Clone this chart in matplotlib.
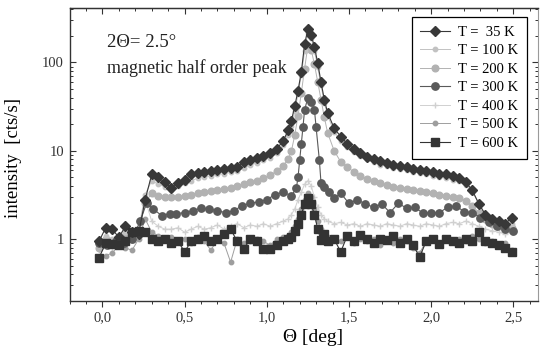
import numpy as np
import matplotlib
matplotlib.use('Agg')
import matplotlib.pyplot as plt
from matplotlib.ticker import MultipleLocator, FuncFormatter, LogLocator, NullFormatter

plt.rcParams['font.family'] = ['Liberation Serif', 'DejaVu Serif']

theta = [-0.02, 0.02, 0.06, 0.10, 0.14, 0.18, 0.22, 0.26, 0.30, 0.34,
         0.38, 0.42, 0.46, 0.50, 0.54, 0.58, 0.62, 0.66, 0.70, 0.74,
         0.78, 0.82, 0.86, 0.90, 0.94, 0.98, 1.02, 1.06, 1.10, 1.13,
         1.15, 1.17, 1.19, 1.21, 1.23, 1.25, 1.27, 1.29, 1.31, 1.33,
         1.35, 1.37, 1.41, 1.45, 1.49, 1.53, 1.57, 1.61, 1.65, 1.69,
         1.73, 1.77, 1.81, 1.85, 1.89, 1.93, 1.97, 2.01, 2.05, 2.09,
         2.13, 2.17, 2.21, 2.25, 2.29, 2.33, 2.37, 2.41, 2.45, 2.49]

i_35 = [0.95, 1.35, 1.30, 1.05, 1.40, 1.20, 1.15, 2.8, 5.4, 5.0,
        4.4, 3.8, 4.3, 4.7, 5.4, 5.6, 5.8, 5.9, 6.1, 6.2,
        6.4, 6.6, 7.4, 7.9, 8.3, 8.8, 9.4, 10.5, 13, 17,
        22, 32, 48, 78, 160, 240, 205, 150, 98, 60,
        38, 27, 18, 14.5, 12, 10.5, 9.4, 8.6, 8.0, 7.6,
        7.3, 7.0, 6.8, 6.5, 6.3, 6.1, 5.9, 5.7, 5.5, 5.4,
        5.2, 4.9, 4.4, 3.6, 2.5, 1.9, 1.7, 1.6, 1.5, 1.75]

i_100 = [0.85, 1.10, 1.00, 1.10, 1.20, 1.10, 1.30, 3.2, 4.6, 4.2,
         3.9, 3.6, 4.0, 4.3, 4.6, 4.9, 5.1, 5.2, 5.4, 5.5,
         5.7, 5.9, 6.4, 6.9, 7.3, 7.8, 8.4, 9.4, 11.5, 15,
         19, 28, 44, 72, 135, 215, 190, 135, 88, 55,
         35, 25, 16.5, 13, 11, 9.6, 8.7, 8.0, 7.4, 7.0,
         6.7, 6.4, 6.2, 6.0, 5.8, 5.6, 5.4, 5.2, 5.0, 4.9,
         4.7, 4.5, 4.1, 3.4, 2.6, 1.9, 1.6, 1.5, 1.4, 1.5]

i_200 = [0.80, 1.00, 0.90, 1.00, 1.10, 1.00, 1.20, 2.6, 3.3, 3.1,
         3.0, 3.0, 3.0, 3.1, 3.2, 3.3, 3.4, 3.5, 3.6, 3.7,
         3.8, 4.0, 4.2, 4.4, 4.6, 4.9, 5.3, 5.9, 6.8, 8.0,
         10, 15, 25, 45, 85, 155, 140, 95, 60, 38,
         24, 16, 10, 7.5, 6.5, 5.8, 5.2, 4.8, 4.5, 4.3,
         4.1, 3.9, 3.8, 3.7, 3.6, 3.5, 3.4, 3.3, 3.2, 3.1,
         3.0, 2.9, 2.7, 2.4, 2.0, 1.7, 1.5, 1.4, 1.3, 1.35]

theta_300 = [-0.02, 0.03, 0.08, 0.13, 0.18, 0.23, 0.27, 0.31, 0.36, 0.41,
             0.45, 0.50, 0.55, 0.60, 0.65, 0.70, 0.75, 0.80, 0.85, 0.90,
             0.95, 1.00, 1.05, 1.10, 1.15, 1.18, 1.19, 1.20, 1.21, 1.22,
             1.23, 1.25, 1.27, 1.29, 1.30, 1.32, 1.33, 1.35, 1.38, 1.41,
             1.45, 1.50, 1.55, 1.60, 1.65, 1.70, 1.75, 1.80, 1.85, 1.90,
             1.95, 2.00, 2.05, 2.10, 2.15, 2.20, 2.25, 2.30, 2.35, 2.40,
             2.45, 2.50]

i_300 = [0.9, 0.85, 0.95, 0.9, 1.0, 1.6, 2.6, 2.2, 1.85, 1.95,
         1.95, 2.0, 2.1, 2.25, 2.2, 2.1, 2.0, 2.1, 2.4, 2.55,
         2.65, 2.8, 3.2, 3.4, 3.1, 3.8, 5.0, 7.8, 12, 18.5,
         29, 40, 36, 29, 18.5, 7.8, 4.3, 3.9, 3.4, 2.9,
         3.3, 2.55, 2.8, 2.5, 2.3, 2.5, 2.0, 2.55, 2.25, 2.3,
         1.97, 2.0, 2.0, 2.3, 2.4, 2.05, 2.0, 1.75, 1.55, 1.4,
         1.3, 1.25]

i_400 = [0.75, 0.90, 0.80, 0.95, 0.90, 1.00, 1.10, 2.8, 1.6, 1.4,
         1.3, 1.3, 1.35, 1.2, 1.3, 1.4, 1.3, 1.35, 1.45, 1.3,
         1.4, 1.5, 1.35, 1.45, 1.4, 1.5, 1.4, 1.5, 1.6, 1.7,
         1.9, 2.2, 2.8, 3.4, 4.2, 4.6, 4.0, 3.0, 2.3, 1.9,
         1.7, 1.6, 1.5, 1.55, 1.45, 1.5, 1.4, 1.5, 1.45, 1.4,
         1.5, 1.45, 1.4, 1.5, 1.45, 1.4, 1.5, 1.45, 1.4, 1.5,
         1.55, 1.5, 1.6, 1.5, 1.4, 1.3, 1.25, 1.2, 1.15, 1.2]

i_500 = [0.60, 0.65, 0.70, 0.85, 0.80, 0.75, 1.00, 1.7, 1.2, 1.1,
         1.0, 1.05, 0.95, 1.0, 0.9, 1.05, 0.95, 0.75, 1.0, 0.9,
         0.55, 1.0, 0.9, 0.95, 1.0, 0.95, 0.85, 1.0, 1.05, 1.1,
         1.2, 1.4, 1.7, 2.2, 2.8, 3.3, 3.0, 2.2, 1.6, 1.3,
         1.15, 1.05, 1.0, 0.95, 1.05, 0.9, 1.0, 0.95, 1.0, 0.85,
         1.0, 0.9, 1.0, 0.95, 0.8, 0.7, 0.95, 1.0, 0.9, 1.0,
         0.95, 1.0, 0.95, 1.1, 1.0, 0.9, 0.95, 0.85, 0.9, 0.75]

i_600 = [0.62, 0.90, 0.88, 0.85, 0.95, 1.20, 1.25, 1.20, 1.00, 0.95,
         1.00, 0.90, 0.95, 0.72, 0.95, 1.00, 1.10, 0.95, 1.00, 1.15,
         1.30, 0.95, 0.78, 1.00, 0.95, 0.78, 0.78, 0.85, 0.95, 1.00,
         1.05, 1.25, 1.50, 1.90, 2.50, 2.90, 2.50, 1.90, 1.30, 0.97,
         1.15, 0.95, 1.00, 0.72, 1.10, 0.95, 1.12, 1.00, 0.90, 1.00,
         0.97, 1.10, 0.90, 1.00, 0.85, 0.63, 0.95, 1.00, 0.88, 1.00,
         0.95, 0.90, 1.00, 0.95, 1.20, 0.95, 0.90, 0.85, 0.80, 0.71]

labels = ['T =  35 K', 'T = 100 K', 'T = 200 K', 'T = 300 K',
          'T = 400 K', 'T = 500 K', 'T = 600 K']

series = [
    (theta, i_35, dict(marker='D', ms=5.5, color='#383838', lw=0.8, zorder=6)),
    (theta, i_100, dict(marker='o', ms=3.2, color='#c2c2c2', lw=0.7, zorder=3)),
    (theta, i_200, dict(marker='o', ms=4.8, color='#b2b2b2', lw=0.7, zorder=2)),
    (theta_300, i_300, dict(marker='o', ms=5.3, color='#5a5a5a', lw=0.8, zorder=5)),
    (theta, i_400, dict(marker='+', ms=4.5, color='#d0d0d0', lw=0.7, mew=1.0, zorder=1)),
    (theta, i_500, dict(marker='o', ms=3.2, color='#9e9e9e', lw=0.7, zorder=4)),
    (theta, i_600, dict(marker='s', ms=5.3, color='#333333', lw=0.8, zorder=7)),
]

fig = plt.figure(figsize=(5.44, 3.53), dpi=100)
ax = fig.add_axes([0.1278, 0.1473, 0.8612, 0.8292])

handles = []
for (xs, ys, st), lab in zip(series, labels):
    h, = ax.plot(xs, ys, label=lab, **st)
    handles.append(h)

ax.set_yscale('log')
ax.set_xlim(-0.2, 2.65)
ax.set_ylim(0.2, 410)

ax.xaxis.set_major_locator(MultipleLocator(0.5))
ax.xaxis.set_minor_locator(MultipleLocator(0.1))
ax.xaxis.set_major_formatter(FuncFormatter(lambda v, p: f'{v:.1f}'.replace('.', ',')))
ax.yaxis.set_major_locator(LogLocator(base=10))
ax.yaxis.set_minor_locator(LogLocator(base=10, subs=np.arange(2, 10)))
ax.yaxis.set_major_formatter(FuncFormatter(lambda v, p: f'{v:g}'))
ax.yaxis.set_minor_formatter(NullFormatter())

ax.tick_params(axis='x', which='both', direction='out', top=False, labelsize=10.5,
               colors='#333333', pad=3)
ax.tick_params(axis='x', which='major', length=4.5, width=0.8)
ax.tick_params(axis='x', which='minor', length=2.5, width=0.7)
ax.tick_params(axis='y', which='both', direction='in', left=True, right=True,
               labelsize=10.5, colors='#333333', pad=4)
ax.tick_params(axis='y', which='major', length=4.5, width=0.8)
ax.tick_params(axis='y', which='minor', length=2.5, width=0.7)

sec = ax.secondary_xaxis('top')
sec.xaxis.set_major_locator(MultipleLocator(0.5))
sec.xaxis.set_minor_locator(MultipleLocator(0.1))
sec.tick_params(axis='x', which='both', direction='in', labeltop=False, colors='#333333')
sec.tick_params(axis='x', which='major', length=4.5, width=0.8)
sec.tick_params(axis='x', which='minor', length=2.5, width=0.7)
sec.spines['top'].set_color('#333333')

for s in ['left', 'bottom', 'top']:
    ax.spines[s].set_color('#333333')
    ax.spines[s].set_linewidth(1.0)
ax.spines['right'].set_color('#9a9a9a')
ax.spines['right'].set_linewidth(0.8)

ax.set_xlabel('Θ [deg]', fontsize=14)
ax.xaxis.set_label_coords(0.519, -0.123)
ax.xaxis.label.set_va('center')
ax.set_ylabel('intensity  [cts/s]', fontsize=13.5)
ax.yaxis.set_label_coords(-0.1206, 0.49)
ax.yaxis.label.set_va('center')

ax.text(0.080, 0.868, '2Θ= 2.5°', transform=ax.transAxes, fontsize=13.5,
        va='baseline', ha='left', color='#222222')
ax.text(0.080, 0.779, 'magnetic half order peak', transform=ax.transAxes,
        fontsize=13, va='baseline', ha='left', color='#222222')

leg = ax.legend(handles, labels, loc='upper right', bbox_to_anchor=(0.977, 0.970),
                fontsize=10.5, frameon=True, fancybox=False, edgecolor='black',
                framealpha=1, labelspacing=0.36, handlelength=2.0,
                handletextpad=0.6, borderpad=0.6, borderaxespad=0)
leg.get_frame().set_linewidth(0.9)
leg.set_zorder(10)

fig.savefig('out.png', dpi=100, facecolor='white')
